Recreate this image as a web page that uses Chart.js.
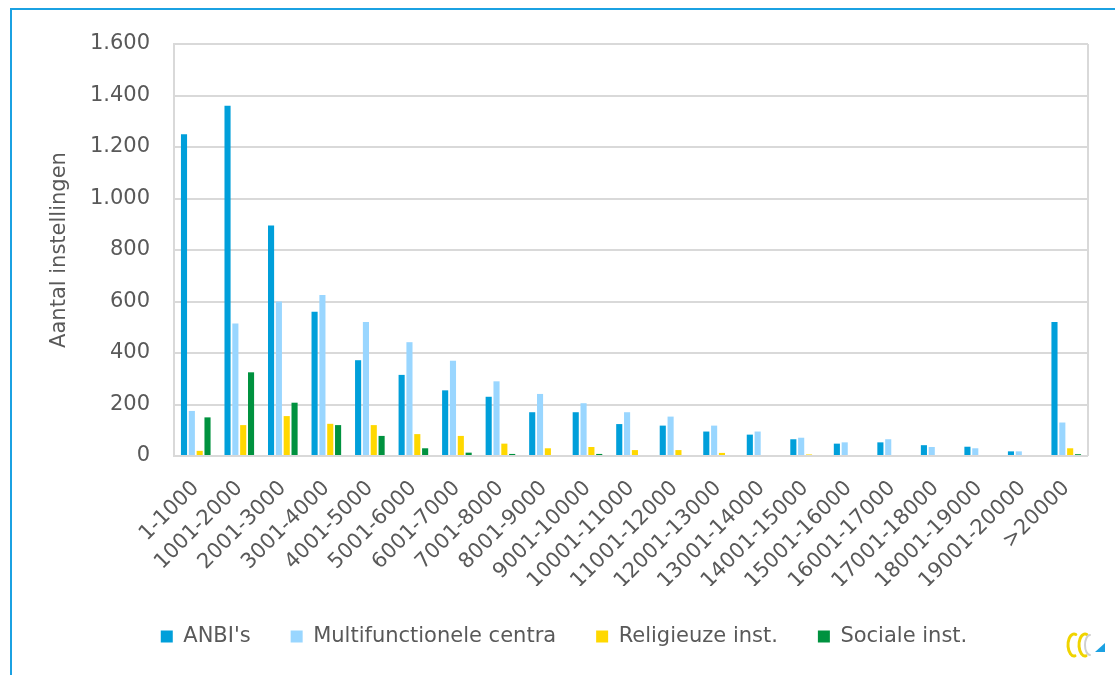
<!DOCTYPE html>
<html>
<head>
<meta charset="utf-8">
<script src="https://cdn.jsdelivr.net/npm/chart.js@4.4.1/dist/chart.umd.min.js"></script>
<style>
  html, body { margin: 0; padding: 0; background: #fff; }
  .frame {
    position: absolute; left: 10px; top: 8px; width: 1200px; height: 700px;
    border-top: 2px solid #1ba1e2; border-left: 2px solid #1ba1e2;
  }
  .chartContainer { position: absolute; left: 0; top: 0; width: 1115px; height: 675px; }
</style>
</head>
<body>
<div class="frame"></div>
<div class="chartContainer"><canvas id="chart"></canvas></div>
<script>
// Data
const categories = ["1-1000", "1001-2000", "2001-3000", "3001-4000", "4001-5000", "5001-6000",
  "6001-7000", "7001-8000", "8001-9000", "9001-10000", "10001-11000", "11001-12000",
  "12001-13000", "13001-14000", "14001-15000", "15001-16000", "16001-17000", "17001-18000",
  "18001-19000", "19001-20000", ">20000"];
const anbi = [1250, 1360, 895, 560, 372, 315, 255, 230, 170, 170, 124, 118, 95, 83, 65, 48, 53, 42, 36, 18, 520];
const multi = [175, 515, 600, 625, 520, 442, 370, 290, 241, 205, 170, 153, 118, 95, 71, 53, 65, 35, 30, 18, 130];
const religieus = [20, 120, 155, 125, 120, 85, 78, 48, 30, 35, 23, 23, 12, 0, 6, 0, 0, 0, 0, 0, 30];
const sociaal = [150, 325, 207, 120, 78, 30, 13, 8, 0, 8, 0, 0, 0, 0, 0, 0, 0, 0, 0, 0, 7];
const yTicks = [0, 200, 400, 600, 800, 1000, 1200, 1400, 1600];

const grey = "#595959";
const gridGrey = "#d9d9d9";
const font = "'DejaVu Sans', sans-serif";

// Dutch thousands separator
const fmt = (v) => String(v).replace(/\B(?=(\d{3})+(?!\d))/g, ".");

// Right edge of the plot box + small logo
const framePlugin = {
  id: "frame",
  afterDraw(chart) {
    const { ctx, chartArea: a } = chart;
    ctx.save();
    ctx.strokeStyle = gridGrey;
    ctx.lineWidth = 2;
    ctx.beginPath();
    ctx.moveTo(a.right, a.top);
    ctx.lineTo(a.right, a.bottom);
    ctx.stroke();

    // logo
    const cx = 1080, cy = 645;
    ctx.lineCap = "round";
    ctx.strokeStyle = "#f0d400";
    ctx.lineWidth = 3;
    ctx.beginPath();
    ctx.ellipse(cx - 6, cy, 6, 11, 0, Math.PI * 0.45, Math.PI * 1.6);
    ctx.stroke();
    ctx.beginPath();
    ctx.ellipse(cx + 5, cy, 6, 11, 0, Math.PI * 0.45, Math.PI * 1.6);
    ctx.stroke();
    ctx.strokeStyle = "#cfcfcf";
    ctx.lineWidth = 2;
    ctx.beginPath();
    ctx.ellipse(cx + 10, cy, 5, 10, 0, Math.PI * 0.5, Math.PI * 1.5);
    ctx.stroke();
    ctx.fillStyle = "#1ba1e2";
    ctx.beginPath();
    ctx.moveTo(cx + 15, cy + 7);
    ctx.lineTo(cx + 25, cy + 7);
    ctx.lineTo(cx + 25, cy - 2);
    ctx.closePath();
    ctx.fill();
    ctx.restore();
  },
};

const data = {
  labels: categories,
  datasets: [
    { label: "ANBI's", data: anbi, backgroundColor: "#009fda" },
    { label: "Multifunctionele centra", data: multi, backgroundColor: "#99d6ff" },
    { label: "Religieuze inst.", data: religieus, backgroundColor: "#ffd800" },
    { label: "Sociale inst.", data: sociaal, backgroundColor: "#00923f" },
  ],
};

const config = {
  type: "bar",
  data: data,
  options: {
    responsive: true,
    maintainAspectRatio: false,
    animation: false,
    datasets: { bar: { categoryPercentage: 0.72, barPercentage: 0.78 } },
    layout: { padding: { left: 40, right: 27, top: 44, bottom: 18 } },
    plugins: {
      tooltip: { enabled: false },
      legend: {
        position: "bottom",
        labels: {
          boxWidth: 12,
          boxHeight: 12,
          padding: 40,
          color: grey,
          font: { family: font, size: 21 },
        },
      },
    },
    scales: {
      x: {
        grid: { display: false },
        border: { display: false },
        ticks: {
          color: grey,
          font: { family: font, size: 21 },
          minRotation: 45,
          maxRotation: 45,
          autoSkip: false,
          padding: 12,
        },
        afterFit: (scale) => { scale.height = 130; },
      },
      y: {
        min: 0,
        max: 1600,
        afterBuildTicks: (scale) => { scale.ticks = yTicks.map((v) => ({ value: v })); },
        grid: { color: gridGrey, lineWidth: 2, drawTicks: false },
        border: { display: true, color: gridGrey, width: 2 },
        ticks: {
          color: grey,
          font: { family: font, size: 21 },
          padding: 24,
          callback: (v) => fmt(v),
        },
        title: {
          display: true,
          text: "Aantal instellingen",
          color: grey,
          font: { family: font, size: 21 },
          padding: { top: 7, bottom: 0 },
        },
        afterFit: (scale) => { scale.width = 134; },
      },
    },
  },
  plugins: [framePlugin],
};

const myChart = new Chart(document.querySelector("#chart"), config);
</script>
</body>
</html>
